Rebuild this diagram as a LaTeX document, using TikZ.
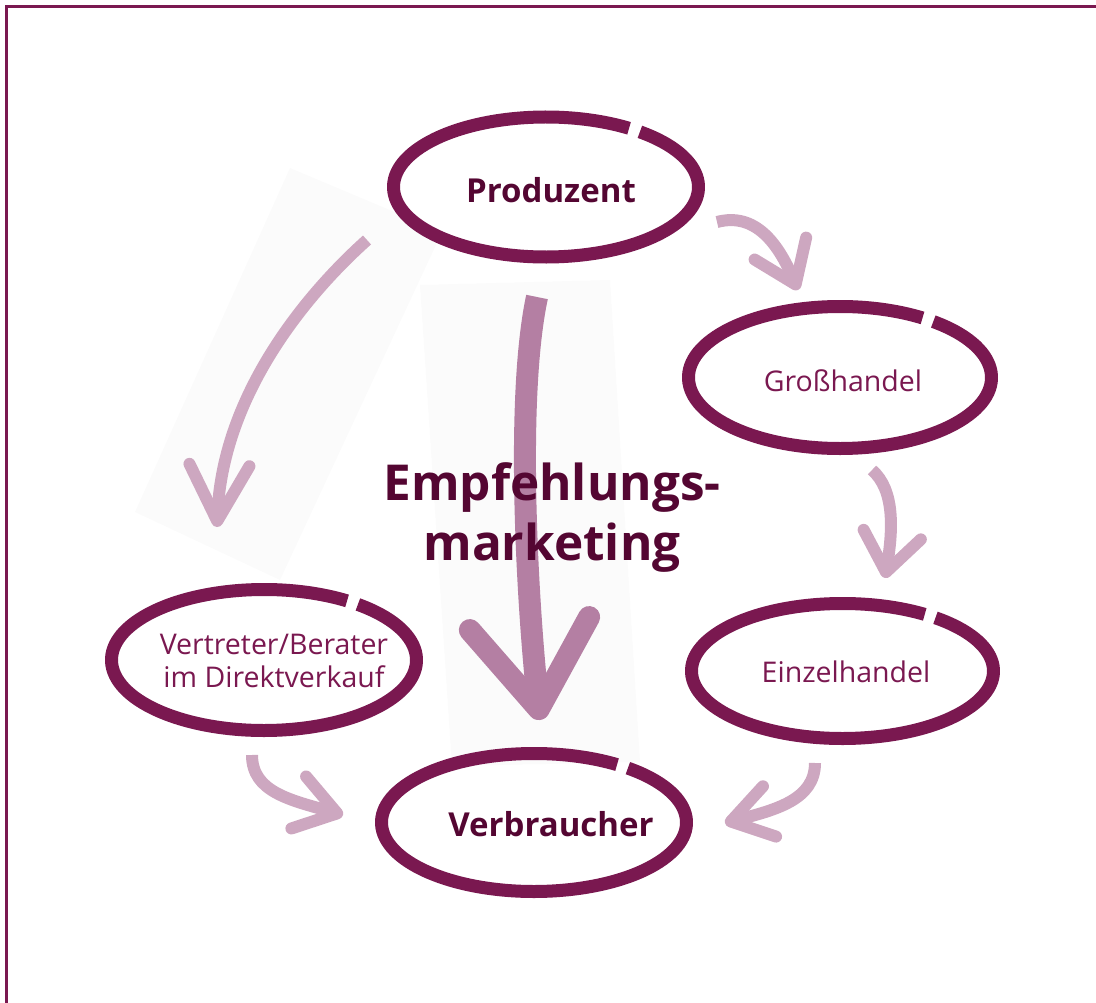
\documentclass[tikz,border=0pt]{standalone}
\usepackage{fontspec}
\setmainfont{Open Sans}
\usetikzlibrary{arrows.meta}

\definecolor{plum}{HTML}{7A1850}
\definecolor{wine}{HTML}{540632}
\definecolor{lightplum}{HTML}{CDA7C0}
\definecolor{midplum}{HTML}{B47FA3}
\definecolor{paper}{HTML}{FBFBFB}

% brush ring with a small gap at the upper right
\newcommand{\brushring}[3]{%
  \draw[ring] (#1) ++(-52:#2 and #3)
    arc[start angle=-52, end angle=303, x radius=#2, y radius=#3];}

\begin{document}
\begin{tikzpicture}[x=1pt, y=-1pt,
    ring/.style={draw=plum, line width=13pt},
    stage/.style={inner sep=0pt, align=center, text=plum,
      font=\fontsize{28.5}{33}\selectfont},
    keystage/.style={stage, text=wine, font=\bfseries\fontsize{33}{40}\selectfont},
    flow/.style={draw=lightplum, line width=12pt},
    mainflow/.style={draw=midplum, line width=22pt},
    barb/.style 2 args={-{Straight Barb[length=#1, width=#2, round]}},
]
\useasboundingbox (0,0) rectangle (1096,1003);

% frame
\draw[plum, line width=3pt] (6.5,1003) -- (6.5,6.5) -- (1096,6.5);

% scanned paper behind the arrows
\fill[paper] (290,168) -- (442,232) -- (280,580) -- (135,512) -- cycle;
\fill[paper] (420,285) -- (610,280) -- (640,762) -- (452,766) -- cycle;

% arrow ends
\coordinate (pg0) at (717,222);  \coordinate (pg1) at (798,290);
\coordinate (ge0) at (872,470);  \coordinate (ge1) at (885,578);
\coordinate (pv0) at (367,240);  \coordinate (pv1) at (217,527);
\coordinate (pc0) at (537,297);  \coordinate (pc1) at (540,720);
\coordinate (vc0) at (252,755);  \coordinate (vc1) at (343,815);
\coordinate (ec0) at (815,763);  \coordinate (ec1) at (725,823);

\draw[flow, barb={39pt}{56pt}] (pg0) .. controls (755,212) and (778,243) .. (pg1);
\draw[flow, barb={38pt}{58pt}] (ge0) .. controls (895,490) and (893,530) .. (ge1);
\draw[flow, barb={56pt}{60pt}] (pv0) .. controls (300,300) and (222,400) .. (pv1);
\draw[mainflow, barb={86pt}{120pt}] (pc0) .. controls (515,400) and (528,610) .. (pc1);
\draw[flow, barb={40pt}{54pt}] (vc0) .. controls (252,792) and (290,800) .. (vc1);
\draw[flow, barb={40pt}{52pt}] (ec0) .. controls (815,800) and (775,810) .. (ec1);

% rings
\brushring{546,187}{152.5}{70}
\brushring{840,377.5}{151.5}{71}
\brushring{842.5,671}{151}{67.5}
\brushring{264,660}{152.5}{70.5}
\brushring{534,822.5}{152.5}{69}

% stages
\node[keystage] (prod) at (551,190) {Produzent};
\node[stage] (gross) at (843,381) {Großhandel};
\node[stage] (einzel) at (846,672) {Einzelhandel};
\node[stage] (vertr) at (274,661) {Vertreter/Berater\\im Direktverkauf};
\node[keystage] (verb) at (551,824) {Verbraucher};

\node[inner sep=0pt, align=center, text=wine,
  font=\bfseries\fontsize{49.5}{60}\selectfont] (empf) at (552,518)
  {Empfehlungs-\\marketing};

\end{tikzpicture}
\end{document}
